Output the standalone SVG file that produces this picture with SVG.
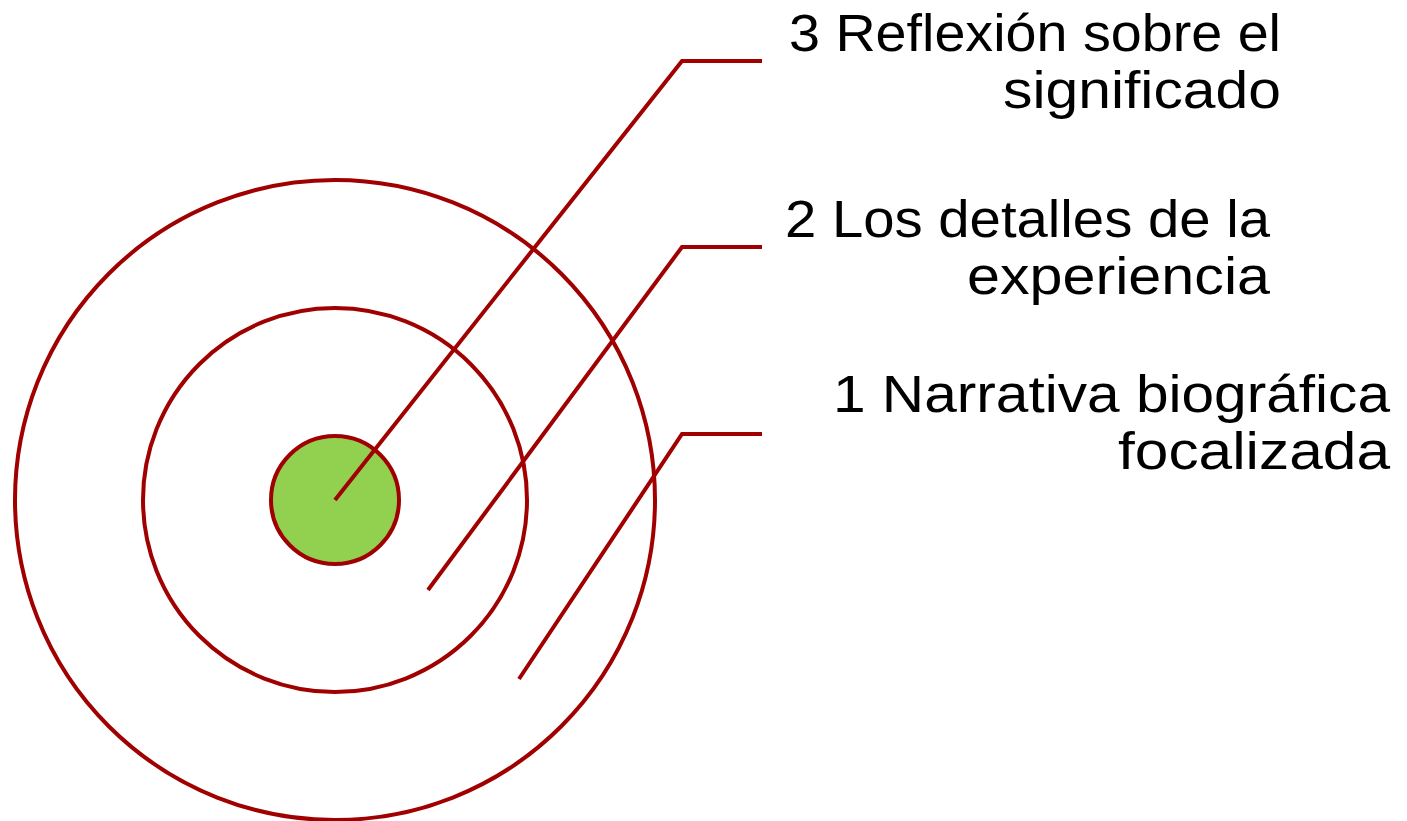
<svg xmlns="http://www.w3.org/2000/svg" width="1407" height="821" viewBox="0 0 1407 821">
<style>
.ring{fill:none;stroke:#A00000;stroke-width:4}
.core{fill:#92D050;stroke:#A00000;stroke-width:4}
.lead{fill:none;stroke:#A00000;stroke-width:4}
.lbl{font-family:"Liberation Sans",Arial,sans-serif;font-size:51px;fill:#000;text-anchor:end}
</style>
<rect width="1407" height="821" fill="#fff"/>
<g id="ring1"><circle class="ring" cx="335" cy="500" r="320"/></g>
<g id="ring2"><circle class="ring" cx="335" cy="500" r="192"/></g>
<g id="core"><circle class="core" cx="335" cy="500" r="64"/></g>
<g id="connectors">
<polyline class="lead" points="335,500 682,61 762,61"/>
<polyline class="lead" points="428,590 682,247 762,247"/>
<polyline class="lead" points="519,679 682,434 762,434"/>
</g>
<g id="label3">
<text class="lbl" x="1281" y="51" textLength="492" lengthAdjust="spacingAndGlyphs">3 Reflexión sobre el</text>
<text class="lbl" x="1281" y="108" textLength="278" lengthAdjust="spacingAndGlyphs">significado</text>
</g>
<g id="label2">
<text class="lbl" x="1270" y="237" textLength="485" lengthAdjust="spacingAndGlyphs">2 Los detalles de la</text>
<text class="lbl" x="1270" y="294" textLength="303" lengthAdjust="spacingAndGlyphs">experiencia</text>
</g>
<g id="label1">
<text class="lbl" x="1390" y="412" textLength="557" lengthAdjust="spacingAndGlyphs">1 Narrativa biográfica</text>
<text class="lbl" x="1390" y="469" textLength="272" lengthAdjust="spacingAndGlyphs">focalizada</text>
</g>
</svg>
